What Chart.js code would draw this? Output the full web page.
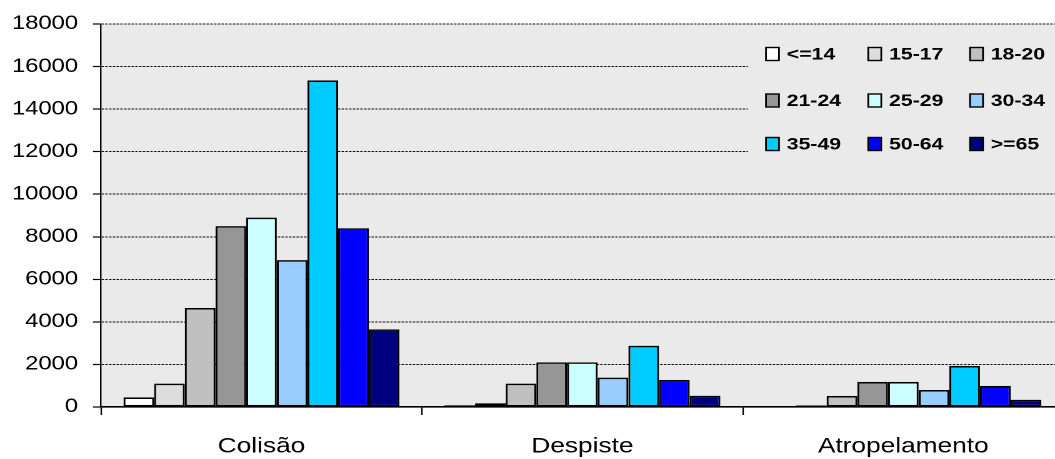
<!DOCTYPE html>
<html>
<head>
<meta charset="utf-8">
<script src="https://cdn.jsdelivr.net/npm/chart.js@4/dist/chart.umd.min.js"></script>
<style>
  html, body { margin: 0; padding: 0; background: #ffffff; overflow: hidden; width: 1055px; height: 459px; }
  #wrap { position: absolute; left: 0; top: 0; width: 853px; height: 459px; transform: scaleX(1.25); transform-origin: 0 0; }
</style>
</head>
<body>
<div id="wrap"><canvas id="c"></canvas></div>
<script>
// ---- data ----
const categories = ['Colisão', 'Despiste', 'Atropelamento'];
const ageGroups = ['<=14', '15-17', '18-20', '21-24', '25-29', '30-34', '35-49', '50-64', '>=65'];
const v_le14  = [450, 80, 10];
const v_15_17 = [1100, 175, 70];
const v_18_20 = [4650, 1100, 520];
const v_21_24 = [8500, 2100, 1180];
const v_25_29 = [8900, 2100, 1180];
const v_30_34 = [6900, 1380, 800];
const v_35_49 = [15350, 2880, 1930];
const v_50_64 = [8400, 1270, 990];
const v_ge65  = [3650, 530, 340];
const yMin = 0, yMax = 18000, yStep = 2000;

const seriesValues = [v_le14, v_15_17, v_18_20, v_21_24, v_25_29, v_30_34, v_35_49, v_50_64, v_ge65];
const seriesColors = ['#FFFFFF', '#DDDDDD', '#C0C0C0', '#969696', '#CCFFFF', '#99CCFF', '#00CCFF', '#0000FF', '#000080'];

const FONT = '"Liberation Sans", Arial, sans-serif';

const plotBg = {
  id: 'plotBg',
  beforeDraw(chart) {
    const { ctx, chartArea: a } = chart;
    ctx.save();
    ctx.fillStyle = '#EAEAEA';
    ctx.fillRect(a.left, a.top, a.right - a.left, a.bottom - a.top);
    ctx.restore();
  }
};

const gridLegend = {
  id: 'gridLegend',
  afterDraw(chart) {
    const ctx = chart.ctx;
    const colX = [612.8, 694.6, 776];
    const rowY = [54, 100.5, 144];
    ctx.save();
    ctx.fillStyle = '#EAEAEA';
    ctx.fillRect(598.4, 35, 260, 130);
    ctx.font = 'bold 17px ' + FONT;
    ctx.textBaseline = 'middle';
    ctx.textAlign = 'left';
    chart.data.datasets.forEach((ds, i) => {
      const x = colX[i % 3], y = rowY[Math.floor(i / 3)];
      ctx.fillStyle = ds.backgroundColor;
      ctx.fillRect(x, y - 6.5, 10.4, 13);
      ctx.lineWidth = 1.4;
      ctx.strokeStyle = '#000';
      ctx.strokeRect(x, y - 6.5, 10.4, 13);
      ctx.fillStyle = '#000';
      ctx.fillText(ds.label, x + 16.6, y + 1);
    });
    ctx.restore();
  }
};

new Chart(document.getElementById('c'), {
  type: 'bar',
  data: {
    labels: categories,
    datasets: ageGroups.map((g, i) => ({
      label: g,
      data: seriesValues[i],
      backgroundColor: seriesColors[i],
      borderColor: '#000000',
      borderWidth: 1.6,
      borderSkipped: false,
      categoryPercentage: 0.86,
      barPercentage: 1.0
    }))
  },
  options: {
    responsive: true,
    maintainAspectRatio: false,
    animation: false,
    devicePixelRatio: 2,
    layout: { padding: { top: 24, right: 2, bottom: 0, left: 0 } },
    plugins: { legend: { display: false }, tooltip: { enabled: false }, title: { display: false } },
    scales: {
      x: {
        grid: { display: true, offset: true, drawOnChartArea: false, drawTicks: true, tickLength: 8, tickColor: '#000', tickWidth: 1.2 },
        border: { display: true, color: '#000', width: 1.6 },
        ticks: { color: '#000', font: { family: FONT, size: 21 }, padding: 19, maxRotation: 0 },
        afterFit(scale) { scale.height = 52; }
      },
      y: {
        min: yMin, max: yMax,
        grid: { color: '#111', lineWidth: 1, drawTicks: true, tickLength: 6.4, tickColor: '#000', tickWidth: 1.2 },
        border: { display: true, color: '#000', width: 1.2, dash: [2, 1] },
        ticks: { stepSize: yStep, color: '#000', font: { family: FONT, size: 19 }, padding: 12, callback: (v) => String(v) },
        afterFit(scale) { scale.width = 80.8; }
      }
    }
  },
  plugins: [plotBg, gridLegend]
});
</script>
</body>
</html>
